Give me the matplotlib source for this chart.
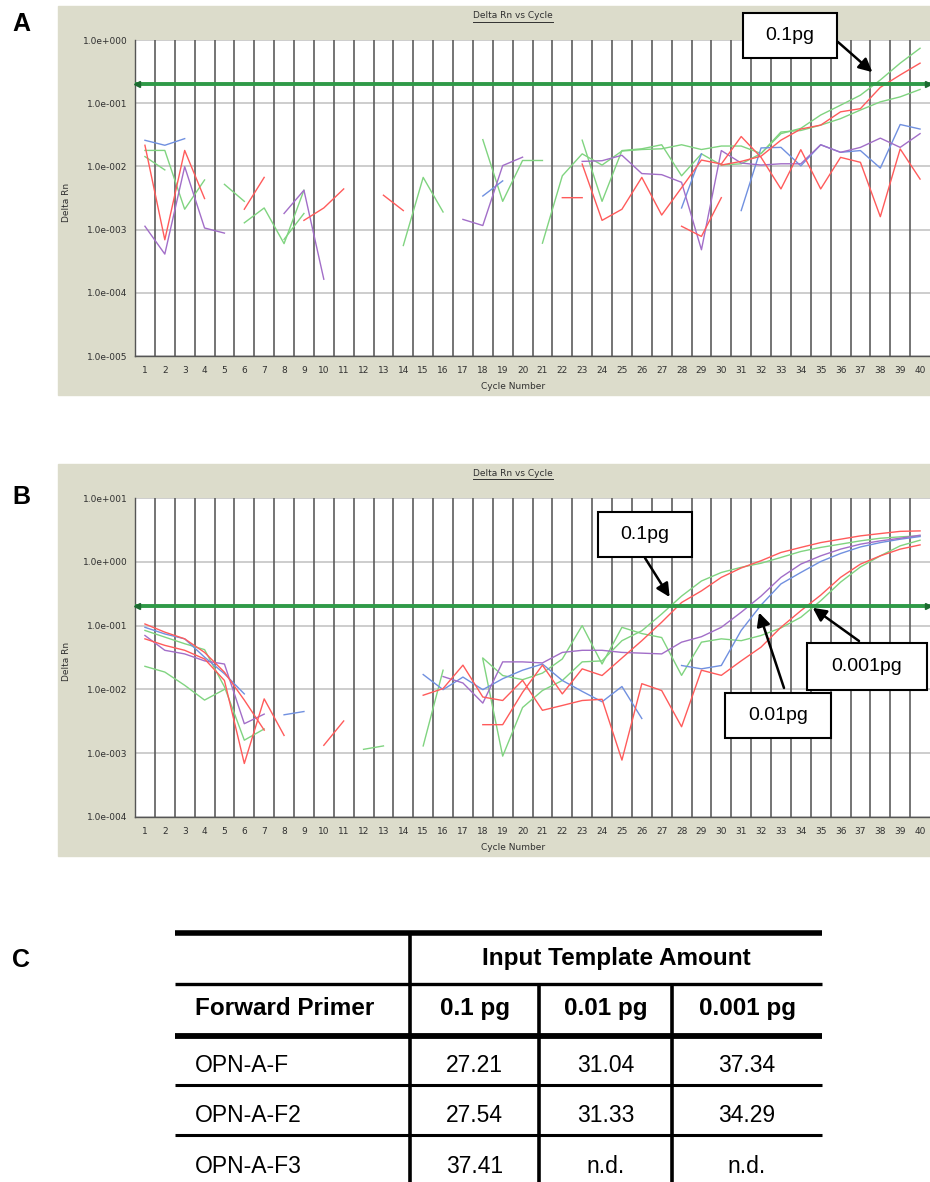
import matplotlib.pyplot as plt
from matplotlib.lines import Line2D
from matplotlib.patches import Rectangle
from matplotlib.ticker import NullLocator
import numpy as np

plt.rcParams['font.family'] = ['Liberation Sans', 'DejaVu Sans']

W, H = 930, 1182
N = None

cycles = np.arange(1, 41)
threshold = 0.2

# ---------------- panel A: Delta Rn per cycle (None = no value) ----------------
a_red_1 = [0.0216, 0.00069, 0.0179, 0.0031, N, 0.0021, 0.0067, N, 0.0014, 0.0022,
           0.0044, N, 0.0035, 0.0020, N, N, N, N, N, N,
           N, 0.0032, 0.0032, N, N, N, N, 0.00113, 0.00078, 0.0032,
           N, N, N, N, N, N, N, N, N, N]
a_red_2 = [N, N, N, N, N, N, N, N, N, N,
           N, N, N, N, N, N, N, N, N, N,
           N, N, 0.0109, 0.0014, 0.0021, 0.0067, 0.0017, 0.0046, 0.0126, 0.0109,
           0.0297, 0.0139, 0.0044, 0.0184, 0.0044, 0.0139, 0.0116, 0.0016, 0.0189, 0.0063]
a_red_3 = [N, N, N, N, N, N, N, N, N, N,
           N, N, N, N, N, N, N, N, N, N,
           N, N, N, N, N, N, N, N, N, 0.0105,
           0.012, 0.0145, 0.026, 0.039, 0.045, 0.073, 0.082, 0.178, 0.28, 0.43]
a_green_1 = [0.0179, 0.0179, 0.0021, 0.0061, N, 0.00128, 0.0022, 0.0006, 0.0042, N,
             N, N, N, 0.00056, 0.0067, 0.0019, N, 0.0265, 0.0028, 0.0124,
             0.0124, N, N, N, N, N, N, N, N, N,
             N, N, N, N, N, N, N, N, N, N]
a_green_2 = [0.0143, 0.0088, N, N, 0.0052, 0.0028, N, 0.0007, 0.0018, N,
             N, N, N, N, N, N, N, N, N, N,
             0.00061, 0.0071, 0.0158, 0.0105, 0.0175, 0.0185, 0.019, 0.022, 0.0185, 0.021,
             0.021, 0.016, 0.033, 0.040, 0.065, 0.093, 0.134, 0.233, 0.43, 0.74]
a_green_3 = [N, N, N, N, N, N, N, N, N, N,
             N, N, N, N, N, N, N, N, N, N,
             N, N, 0.026, 0.0028, 0.0178, 0.019, 0.022, 0.0071, 0.0158, 0.0105,
             0.011, 0.016, 0.035, 0.037, 0.045, 0.057, 0.078, 0.105, 0.126, 0.165]
a_blue = [0.0259, 0.0216, 0.0275, N, N, N, N, N, N, N,
          N, N, N, N, N, N, N, 0.0034, 0.0059, N,
          N, N, N, N, N, N, N, 0.0022, 0.0158, N,
          0.002, 0.0196, 0.020, 0.0102, 0.022, 0.0167, 0.0178, 0.0094, 0.046, 0.039]
a_purple = [0.00113, 0.00041, 0.0099, 0.00106, 0.00088, N, N, 0.0018, 0.0042, 0.000164,
            N, N, N, N, N, N, 0.00145, 0.00116, 0.0103, 0.014,
            N, N, 0.012, 0.0123, 0.015, 0.0077, 0.0074, 0.0056, 0.00048, 0.0178,
            0.0113, 0.0105, 0.011, 0.011, 0.022, 0.0167, 0.020, 0.028, 0.020, 0.033]

# ---------------- panel B ----------------
b_red_1 = [0.106, 0.079, 0.062, 0.038, 0.0186, 0.0068, 0.0023, N, N, 0.00133,
           0.0032, N, N, N, 0.0081, 0.0103, 0.024, 0.0076, 0.0067, 0.0139,
           0.0047, 0.0056, 0.0067, 0.007, 0.00078, 0.0123, 0.0096, 0.0026, 0.020, 0.0166,
           0.028, 0.046, 0.094, 0.171, 0.30, 0.57, 0.92, 1.24, 1.58, 1.84]
b_red_2 = [0.062, 0.049, 0.041, 0.030, 0.0138, 0.00069, 0.0071, 0.0019, N, N,
           N, N, N, N, N, N, N, 0.0028, 0.0028, 0.0090,
           0.024, 0.0085, 0.021, 0.0165, 0.031, 0.058, 0.113, 0.23, 0.35, 0.57,
           0.80, 1.04, 1.40, 1.68, 2.0, 2.26, 2.55, 2.77, 3.0, 3.05]
b_green_1 = [0.084, 0.066, 0.052, 0.042, 0.011, 0.0016, 0.0024, N, N, N,
             N, 0.00115, 0.0013, N, 0.0013, 0.020, N, 0.030, 0.0009, 0.0052,
             0.0096, 0.0138, 0.027, 0.028, 0.058, 0.083, 0.152, 0.29, 0.50, 0.68,
             0.82, 0.95, 1.17, 1.45, 1.68, 1.89, 2.13, 2.34, 2.46, 2.55]
b_green_2 = [0.023, 0.0187, 0.0116, 0.0068, 0.010, N, N, N, N, N,
             N, N, N, N, N, N, N, 0.031, 0.0165, 0.0142,
             0.018, 0.030, 0.10, 0.025, 0.094, 0.075, 0.065, 0.0166, 0.055, 0.062,
             0.058, 0.07, 0.092, 0.135, 0.245, 0.48, 0.83, 1.24, 1.78, 2.18]
b_blue_1 = [0.094, 0.074, 0.062, 0.032, 0.0176, 0.0085, N, 0.0040, 0.0045, N,
            N, N, N, N, 0.0171, 0.0099, 0.0156, 0.0099, 0.0147, 0.020,
            0.025, 0.0138, 0.0093, 0.0064, 0.0111, 0.0035, N, N, N, N,
            N, N, N, N, N, N, N, N, N, N]
b_blue_2 = [N, N, N, N, N, N, N, N, N, N,
            N, N, N, N, N, N, N, N, N, N,
            N, N, N, N, N, N, N, 0.0237, 0.021, 0.0237,
            0.084, 0.21, 0.45, 0.68, 1.01, 1.35, 1.71, 2.0, 2.26, 2.49]
b_purple = [0.070, 0.041, 0.036, 0.028, 0.025, 0.0029, 0.0041, N, N, N,
            N, N, N, N, N, 0.0159, 0.0126, 0.0061, 0.027, 0.027,
            0.026, 0.038, 0.041, 0.041, 0.038, 0.037, 0.036, 0.055, 0.067, 0.094,
            0.162, 0.29, 0.57, 0.92, 1.24, 1.58, 1.89, 2.13, 2.34, 2.61]

RED, GREEN, BLUE, PURPLE = '#ff5b5b', '#80d480', '#7090e0', '#a26ec8'

series_a = [(a_green_1, GREEN), (a_green_2, GREEN), (a_green_3, GREEN),
            (a_blue, BLUE), (a_purple, PURPLE),
            (a_red_1, RED), (a_red_2, RED), (a_red_3, RED)]
series_b = [(b_green_1, GREEN), (b_green_2, GREEN), (b_blue_1, BLUE), (b_blue_2, BLUE),
            (b_purple, PURPLE), (b_red_1, RED), (b_red_2, RED)]

decades_a = [1e-5, 1e-4, 1e-3, 1e-2, 1e-1, 1e0]
labels_a = ['1.0e-005', '1.0e-004', '1.0e-003', '1.0e-002', '1.0e-001', '1.0e+000']
decades_b = [1e-4, 1e-3, 1e-2, 1e-1, 1e0, 1e1]
labels_b = ['1.0e-004', '1.0e-003', '1.0e-002', '1.0e-001', '1.0e+000', '1.0e+001']

# ---------------- table C ----------------
amounts = ['0.1 pg', '0.01 pg', '0.001 pg']
primers = ['OPN-A-F', 'OPN-A-F2', 'OPN-A-F3']
ct_values = [['27.21', '31.04', '37.34'],
             ['27.54', '31.33', '34.29'],
             ['37.41', 'n.d.', 'n.d.']]


def fxy(x, y):
    return x / W, 1 - y / H


fig = plt.figure(figsize=(W / 100, H / 100), dpi=100)

GRAY = '#dcdccb'
SMALL = 6.5
TXT = '#303030'


def panel(top, bottom, series, decades, labels, ylim):
    x0, y0 = fxy(58, bottom + 39)
    fig.add_artist(Rectangle((x0, y0), 1 - x0, (bottom + 39 - top + 34) / H,
                             transform=fig.transFigure, color=GRAY, zorder=0))
    l, b = fxy(135, bottom)
    ax = fig.add_axes([l, b, 1 - l, (bottom - top) / H])
    ax.set_facecolor('white')
    ax.set_yscale('log')
    ax.set_xlim(0.5, 40.5)
    ax.set_ylim(*ylim)
    for d in decades:
        ax.axhline(d, color='#cdcdcd', lw=1.4, zorder=1)
    for c in cycles[:-1] + 0.5:
        ax.axvline(c, color='#5c5c5c', lw=1.2, zorder=1.5)
    for vals, col in series:
        ax.plot(cycles, np.array(vals, dtype=float), color=col, lw=1.0, zorder=3)
    ax.axhline(threshold, color='#2f9a48', lw=2.8, zorder=4)
    ax.plot([0.62], [threshold], marker='<', ms=4, color='#1c6a30', zorder=5, clip_on=False)
    ax.plot([40.38], [threshold], marker='>', ms=4, color='#1c6a30', zorder=5, clip_on=False)
    for s in ('top', 'right'):
        ax.spines[s].set_visible(False)
    for s in ('left', 'bottom'):
        ax.spines[s].set_color('#555555')
        ax.spines[s].set_linewidth(1.0)
    ax.set_yticks(decades)
    ax.set_yticklabels(labels)
    ax.yaxis.set_minor_locator(NullLocator())
    ax.set_xticks(cycles)
    ax.set_xticklabels([str(c) for c in cycles])
    ax.tick_params(axis='both', length=0, labelsize=SMALL, labelcolor=TXT,
                   labelfontfamily='DejaVu Sans')
    ax.tick_params(axis='y', pad=5.5)
    ax.tick_params(axis='x', pad=7)

    # title (underlined), axis names
    tx, ty = fxy(513, top - 24)
    t = fig.text(tx, ty, 'Delta Rn vs Cycle', ha='center', va='center', fontsize=SMALL,
                 color=TXT, family='DejaVu Sans')
    fig.canvas.draw()
    bb = t.get_window_extent()
    fig.add_artist(Line2D([bb.x0 / W, bb.x1 / W], [(bb.y0 - 1) / H] * 2,
                          transform=fig.transFigure, color=TXT, lw=0.7))
    cx, cy = fxy(513, bottom + 30)
    fig.text(cx, cy, 'Cycle Number', ha='center', va='center', fontsize=SMALL,
             color=TXT, family='DejaVu Sans')
    lx, ly = fxy(66, (top + bottom) / 2 + 4)
    fig.text(lx, ly, 'Delta Rn', ha='center', va='center', rotation=90,
             fontsize=SMALL, color=TXT, family='DejaVu Sans')
    return ax


ax_a = panel(40, 356, series_a, decades_a, labels_a, (1e-5, 1e0))
ax_b = panel(498, 817, series_b, decades_b, labels_b, (1e-4, 1e1))

# annotation boxes + arrows
notes = [
    (ax_a, '0.1pg', (743, 13, 837, 58), (838, 42), (37.6, 0.31)),
    (ax_b, '0.1pg', (598, 512, 692, 557), (645, 558), (27.4, 0.28)),
    (ax_b, '0.01pg', (725, 693, 831, 738), (784, 688), (31.9, 0.16)),
    (ax_b, '0.001pg', (807, 643, 927, 690), (859, 641), (34.6, 0.19)),
]
for ax, label, (x0, y0, x1, y1), tail, head in notes:
    bx, by = fxy(x0, y1)
    fig.add_artist(Rectangle((bx, by), (x1 - x0) / W, (y1 - y0) / H, transform=fig.transFigure,
                             fc='white', ec='black', lw=1.5, zorder=10))
    mx, my = fxy((x0 + x1) / 2, (y0 + y1) / 2)
    fig.text(mx, my, label, ha='center', va='center', fontsize=14, zorder=11)
    ax.annotate('', xy=head, xycoords='data', xytext=(tail[0], H - tail[1]),
                textcoords='figure pixels',
                arrowprops=dict(arrowstyle='-|>', color='black', lw=1.8, mutation_scale=20,
                                shrinkA=0, shrinkB=0), zorder=12, annotation_clip=False)

# panel letters
for letter, y in (('A', 24), ('B', 497), ('C', 960)):
    lx, ly = fxy(21, y)
    fig.text(lx, ly, letter, ha='center', va='center', fontsize=18, fontweight='bold')


# ---------------- table C ----------------
def hline(y, x0, x1, lw):
    fig.add_artist(Line2D([x0 / W, x1 / W], [1 - y / H] * 2, transform=fig.transFigure,
                          color='black', lw=lw, solid_capstyle='butt'))


def vline(x, y0, y1, lw):
    fig.add_artist(Line2D([x / W] * 2, [1 - y0 / H, 1 - y1 / H], transform=fig.transFigure,
                          color='black', lw=lw, solid_capstyle='butt'))


TL, TR = 175, 822
col_edges = [410, 539, 672, TR]
hline(933, TL, TR, 4.0)
hline(984, TL, TR, 2.4)
hline(1036, TL, TR, 4.2)
hline(1085, TL, TR, 2.2)
hline(1135, TL, TR, 2.2)
vline(col_edges[0], 933, H, 2.6)
vline(col_edges[1], 984, H, 2.6)
vline(col_edges[2], 984, H, 2.6)

FS = 16.5
FSB = 17.5
hx, hy = fxy((col_edges[0] + TR) / 2, 965)
fig.text(hx, hy, 'Input Template Amount', ha='center', va='baseline', fontsize=FSB,
         fontweight='bold')
px_, py_ = fxy(195, 1015)
fig.text(px_, py_, 'Forward Primer', ha='left', va='baseline', fontsize=FSB, fontweight='bold')
centers = [(col_edges[i] + col_edges[i + 1]) / 2 for i in range(3)]
for cx, amt in zip(centers, amounts):
    x, y = fxy(cx, 1015)
    fig.text(x, y, amt, ha='center', va='baseline', fontsize=FSB, fontweight='bold')
for r, (name, row) in enumerate(zip(primers, ct_values)):
    base = 1072 + r * 50.5
    x, y = fxy(195, base)
    fig.text(x, y, name, ha='left', va='baseline', fontsize=FS)
    for cx, v in zip(centers, row):
        x, y = fxy(cx, base)
        fig.text(x, y, v, ha='center', va='baseline', fontsize=FS)

plt.savefig('out.png', dpi=100)
